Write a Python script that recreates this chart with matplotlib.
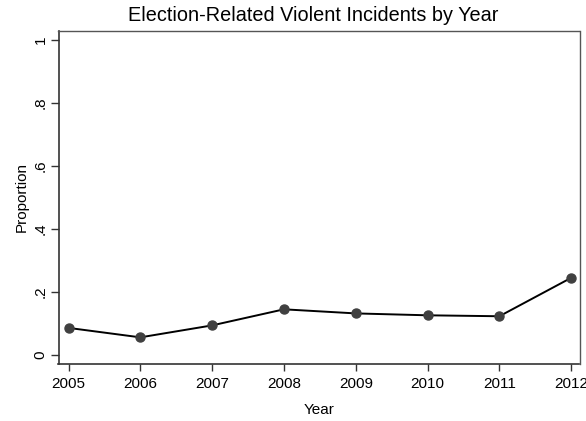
import matplotlib
matplotlib.use("Agg")
import matplotlib.pyplot as plt

years = [2005, 2006, 2007, 2008, 2009, 2010, 2011, 2012]
proportion = [0.086, 0.056, 0.094, 0.145, 0.132, 0.126, 0.123, 0.245]
yticks = [0, 0.2, 0.4, 0.6, 0.8, 1.0]
ytick_labels = ["0", ".2", ".4", ".6", ".8", "1"]

plt.rcParams["font.family"] = ["Liberation Sans", "DejaVu Sans"]

W, H = 586, 421
fig = plt.figure(figsize=(W / 100, H / 100), dpi=100)
ax = fig.add_axes([58.5 / W, 1 - 364 / H, (579.5 - 58.5) / W, (364 - 31) / H])

ax.plot(years, proportion, color="black", lw=1.4, zorder=2)
ax.plot(years, proportion, "o", color="#404040", ms=6.5, zorder=3)

ax.set_xlim(2004.86, 2012.116)
ax.set_ylim(-0.0286, 1.0286)
ax.set_xticks(years)
ax.set_xticklabels([str(y) for y in years], fontsize=11)
ax.set_yticks(yticks)
ax.set_yticklabels(ytick_labels, fontsize=11, rotation=90, va="center")

for side in ["left", "bottom"]:
    ax.spines[side].set_color("#333333")
    ax.spines[side].set_linewidth(1.2)
for side in ["top", "right"]:
    ax.spines[side].set_color("#555555")
    ax.spines[side].set_linewidth(1.0)

ax.tick_params(axis="x", length=5, width=1, color="#333333", pad=4)
ax.tick_params(axis="y", length=6, width=1, color="#333333", pad=2)

ax.set_xlabel("Year", fontsize=11, labelpad=9)
ax.set_ylabel("Proportion", fontsize=11, labelpad=3)
fig.text(313 / W, 1 - 15.5 / H, "Election-Related Violent Incidents by Year",
         ha="center", va="center", fontsize=14.3)

fig.savefig("out.png", dpi=100)
